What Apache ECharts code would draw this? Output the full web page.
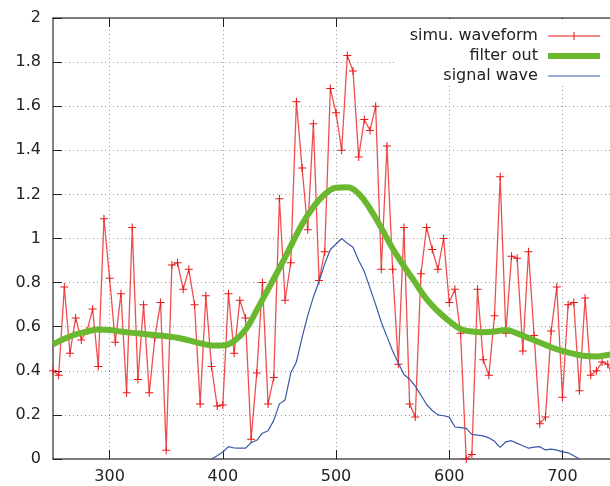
<!DOCTYPE html>
<html>
<head>
<meta charset="utf-8">
<script src="https://cdn.jsdelivr.net/npm/echarts@6/dist/echarts.min.js"></script>
<style>
html,body{margin:0;padding:0;background:#fff;}
#chart{width:610px;height:486px;}
</style>
</head>
<body>
<div id="chart"></div>
<script>
// ---- data ----
const simuX = [250,255,260,265,270,275,280,285,290,295,300,305,310,315,320,325,330,335,340,345,350,355,360,365,370,375,380,385,390,395,400,405,410,415,420,425,430,435,440,445,450,455,460,465,470,475,480,485,490,495,500,505,510,515,520,525,530,535,540,545,550,555,560,565,570,575,580,585,590,595,600,605,610,615,620,625,630,635,640,645,650,655,660,665,670,675,680,685,690,695,700,705,710,715,720,725,730,735,740,745];
const simuY = [0.40,0.38,0.78,0.48,0.64,0.54,0.58,0.68,0.42,1.09,0.82,0.53,0.75,0.30,1.05,0.36,0.70,0.30,0.55,0.71,0.04,0.88,0.89,0.77,0.86,0.70,0.25,0.74,0.42,0.24,0.245,0.75,0.48,0.72,0.64,0.09,0.39,0.80,0.25,0.37,1.18,0.72,0.89,1.62,1.32,1.04,1.52,0.81,0.94,1.68,1.57,1.40,1.83,1.76,1.37,1.54,1.49,1.60,0.86,1.42,0.86,0.43,1.05,0.25,0.19,0.84,1.05,0.95,0.86,1.00,0.71,0.77,0.57,0.0,0.02,0.77,0.45,0.38,0.65,1.28,0.57,0.92,0.91,0.49,0.94,0.56,0.16,0.19,0.58,0.78,0.28,0.70,0.71,0.31,0.73,0.38,0.40,0.44,0.43,0.37];

const filterX = [250,260,270,280,290,300,310,320,330,340,350,360,370,380,390,400,410,420,430,440,450,460,470,480,490,500,510,520,530,540,550,560,570,580,590,600,610,620,630,640,650,660,670,680,690,700,710,720,730,740,750];
const filterY = [0.52,0.545,0.565,0.578,0.587,0.585,0.578,0.572,0.567,0.562,0.557,0.55,0.538,0.525,0.515,0.515,0.535,0.586,0.675,0.77,0.865,0.965,1.065,1.143,1.20,1.23,1.232,1.203,1.135,1.048,0.955,0.875,0.80,0.725,0.67,0.625,0.59,0.578,0.575,0.578,0.585,0.57,0.549,0.528,0.507,0.49,0.477,0.467,0.465,0.472,0.48];

const signalX = [390,395,400,405,410,415,420,425,430,435,440,445,450,455,460,465,470,475,480,485,490,495,500,505,510,515,520,525,530,535,540,545,550,555,560,565,570,575,580,585,590,595,600,605,610,615,620,625,630,635,640,645,650,655,660,665,670,675,680,685,690,695,700,705,710,715];
const signalY = [0.0,0.015,0.032,0.056,0.050,0.049,0.049,0.074,0.085,0.117,0.128,0.175,0.250,0.268,0.39,0.44,0.55,0.65,0.735,0.805,0.885,0.95,0.975,1.0,0.978,0.96,0.90,0.85,0.775,0.70,0.62,0.555,0.49,0.435,0.383,0.362,0.33,0.29,0.247,0.22,0.20,0.196,0.19,0.145,0.142,0.139,0.112,0.108,0.105,0.096,0.08,0.053,0.078,0.083,0.071,0.06,0.049,0.054,0.056,0.041,0.045,0.04,0.032,0.028,0.015,0.0];

const xTicks = [300,400,500,600,700];
const seriesNames = ['simu. waveform','filter out','signal wave'];

// ---- chart ----
const zip = (xs, ys) => xs.map((x, i) => [x, ys[i]]);
const FONT = 'DejaVu Sans';
const chart = echarts.init(document.getElementById('chart'), null, {renderer: 'canvas'});
const gridLine = {show: true, lineStyle: {color: '#9a9a9a', width: 1, type: [1, 3]}};
const plus = 'path://M3.5,0h1v8h-1zM0,3.5h8v1h-8z';
// legend sample shapes (tiny corner specks keep the 52x16 box so nothing is stretched)
const specks = 'M0,0h0.01v0.01h-0.01zM51.99,15.99h0.01v0.01h-0.01z';
const iconSimu = 'path://' + specks + 'M0,7.4h52v1.2h-52zM25.5,4h1v8h-1zM22,7.5h8v1h-8z';
const iconFilter = 'path://' + specks + 'M0,5h52v6h-52z';
const iconSignal = 'path://' + specks + 'M0,7.4h52v1.2h-52z';

chart.setOption({
  animation: false,
  backgroundColor: '#fff',
  grid: {left: 53, right: 0, top: 18, bottom: 27, containLabel: false},
  legend: {
    orient: 'vertical',
    align: 'right',
    right: 0,
    top: 19,
    padding: [9, 10, 1, 15],
    backgroundColor: '#fff',
    itemWidth: 52,
    itemHeight: 16,
    itemGap: 4,
    formatter: n => n + ' ',
    textStyle: {fontFamily: FONT, fontSize: 16, color: '#222', lineHeight: 16},
    data: [
      {name: seriesNames[0], icon: iconSimu},
      {name: seriesNames[1], icon: iconFilter},
      {name: seriesNames[2], icon: iconSignal}
    ],
    z: 10
  },
  xAxis: [{
    type: 'value', min: 250, max: 742, position: 'bottom',
    axisLine: {show: true, onZero: false, lineStyle: {color: '#555', width: 1.5}},
    axisTick: {show: true, inside: true, length: 9, customValues: xTicks, lineStyle: {color: '#222'}},
    axisLabel: {show: true, customValues: xTicks, margin: 10, fontFamily: FONT, fontSize: 16, color: '#222'},
    splitLine: gridLine
  }, {
    type: 'value', min: 250, max: 742, position: 'top',
    axisLine: {show: true, onZero: false, lineStyle: {color: '#555', width: 1.5}},
    axisTick: {show: true, inside: true, length: 9, customValues: xTicks, lineStyle: {color: '#222'}},
    axisLabel: {show: false},
    splitLine: {show: false}
  }],
  yAxis: {
    type: 'value', min: 0, max: 2, interval: 0.2,
    axisLine: {show: true, onZero: false, lineStyle: {color: '#555', width: 1.5}},
    axisTick: {show: true, inside: true, length: 9, lineStyle: {color: '#222'}},
    axisLabel: {margin: 12, fontFamily: FONT, fontSize: 16, color: '#222'},
    splitLine: gridLine
  },
  series: [{
    name: seriesNames[0], type: 'line', data: zip(simuX, simuY),
    symbol: plus, symbolSize: 8, showSymbol: true,
    lineStyle: {color: 'rgba(236,48,48,0.85)', width: 1.3},
    itemStyle: {color: '#e81818'},
    clip: true, z: 2
  }, {
    name: seriesNames[1], type: 'line', data: zip(filterX, filterY),
    smooth: 0.4, showSymbol: false, symbol: 'none',
    lineStyle: {color: '#6ab830', width: 6},
    itemStyle: {color: '#6ab830'},
    clip: true, z: 3
  }, {
    name: seriesNames[2], type: 'line', data: zip(signalX, signalY),
    showSymbol: false, symbol: 'none',
    lineStyle: {color: '#3a58a8', width: 1.2},
    itemStyle: {color: '#3a58a8'},
    clip: true, z: 4
  }]
});
</script>
</body>
</html>
